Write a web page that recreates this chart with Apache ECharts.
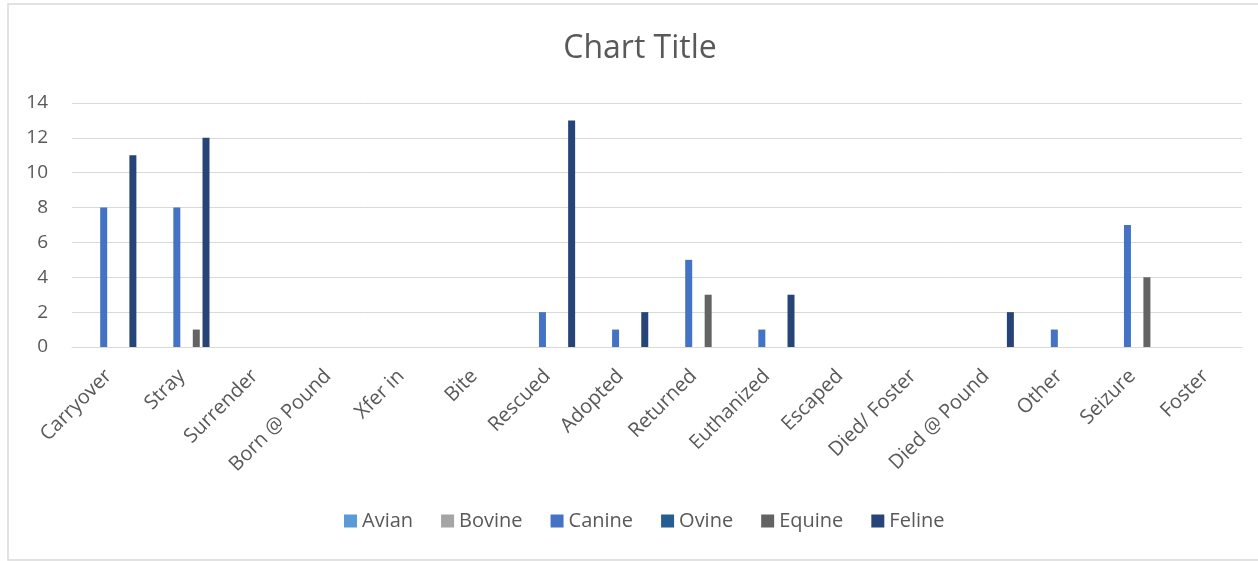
<!DOCTYPE html>
<html>
<head>
<meta charset="utf-8">
<script src="https://cdn.jsdelivr.net/npm/echarts@6/dist/echarts.min.js"></script>
<style>
html,body{margin:0;padding:0;background:#fff;}
#chart{width:1258px;height:561px;}
</style>
</head>
<body>
<div id="chart"></div>
<script>
const categories = ["Carryover","Stray","Surrender","Born @ Pound","Xfer in","Bite","Rescued","Adopted","Returned","Euthanized","Escaped","Died/ Foster","Died @ Pound","Other","Seizure","Foster"];
const avian  = [0,0,0,0,0,0,0,0,0,0,0,0,0,0,0,0];
const bovine = [0,0,0,0,0,0,0,0,0,0,0,0,0,0,0,0];
const canine = [8,8,0,0,0,0,2,1,5,1,0,0,0,1,7,0];
const ovine  = [0,0,0,0,0,0,0,0,0,0,0,0,0,0,0,0];
const equine = [0,1,0,0,0,0,0,0,3,0,0,0,0,0,4,0];
const feline = [11,12,0,0,0,0,13,2,0,3,0,0,2,0,0,0];
const yTicks = [0,2,4,6,8,10,12,14];

const seriesNames = ["Avian","Bovine","Canine","Ovine","Equine","Feline"];
const seriesData = [avian,bovine,canine,ovine,equine,feline];
const colors = ["#5B9BD5","#A5A5A5","#4472C4","#255E91","#636363","#264478"];
const font = "'Open Sans', sans-serif";

const chart = echarts.init(document.getElementById('chart'));
chart.setOption({
  animation: false,
  color: colors,
  title: {
    text: 'Chart Title',
    left: 635,
    textAlign: 'center',
    top: 28,
    textStyle: {fontFamily: font, fontSize: 32, fontWeight: 'normal', color: '#595959'}
  },
  legend: {
    data: seriesNames,
    bottom: 25,
    left: 339,
    itemWidth: 13,
    itemHeight: 13,
    itemGap: 28,
    icon: 'rect',
    textStyle: {fontFamily: font, fontSize: 20, color: '#595959'}
  },
  graphic: [{
    type: 'rect',
    shape: {x: 8, y: 4, width: 1270, height: 556},
    style: {fill: 'none', stroke: '#d9d9d9', lineWidth: 1.5},
    silent: true
  }],
  grid: {left: 72, right: 16, top: 103, bottom: 214, containLabel: false},
  xAxis: {
    type: 'category',
    data: categories,
    axisLine: {show: true, lineStyle: {color: '#d9d9d9', width: 1}},
    axisTick: {show: false},
    axisLabel: {interval: 0, rotate: 45, margin: 26, fontFamily: font, fontSize: 20, color: '#595959'}
  },
  yAxis: {
    type: 'value',
    min: 0, max: 14, interval: 2,
    axisLine: {show: false},
    axisTick: {show: false},
    splitLine: {lineStyle: {color: '#d9d9d9', width: 1}},
    axisLabel: {margin: 24, fontFamily: font, fontSize: 19, color: '#595959',
      formatter: v => yTicks.includes(v) ? String(v) : ''}
  },
  series: seriesNames.map((n, i) => ({
    name: n,
    type: 'bar',
    data: seriesData[i],
    barWidth: 7,
    barGap: '39%',
    itemStyle: {color: colors[i]}
  }))
});
</script>
</body>
</html>
